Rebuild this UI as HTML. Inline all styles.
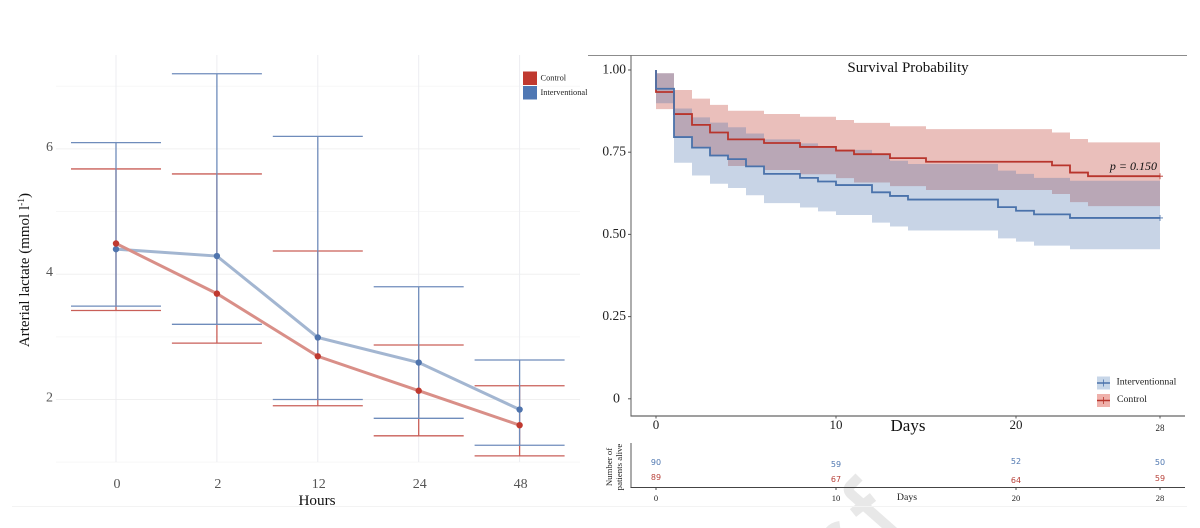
<!DOCTYPE html>
<html lang="en">
<head>
<meta charset="utf-8">
<title>Arterial lactate and survival probability</title>
<style>
html,body{margin:0;padding:0;background:#fff;}
body{width:1200px;height:528px;overflow:hidden;}
svg{display:block;font-family:"Liberation Serif",serif;}
</style>
</head>
<body>
<svg id="chart" width="1200" height="528" viewBox="0 0 1200 528" xmlns="http://www.w3.org/2000/svg">
  <g fill="none" stroke="#e8e8e8" stroke-width="10">
    <path d="M859 477 L850 486 Q847 490 851 494 L894 532"/>
    <path d="M873 497 L853 513"/>
    <path d="M829 532 Q833 527 840 526"/>
  </g>
  <line x1="12" y1="506.5" x2="1187" y2="506.5" stroke="#f3f3f3" stroke-width="1"/>
  <g id="lactate"></g>
  <g id="survival"></g>
  <g id="table"></g>
</svg>
<script>
// ---- Lactate chart data ----
const hourLabels = ['0', '2', '12', '24', '48'];
const lactateTicks = [2, 4, 6];
const lactateGrid = [1, 2, 3, 4, 5, 6, 7];
const interventionalMean = [4.4, 4.29, 2.99, 2.59, 1.84];
const interventionalUpper = [6.1, 7.2, 6.2, 3.8, 2.63];
const interventionalLower = [3.49, 3.2, 2.0, 1.7, 1.27];
const controlMean = [4.49, 3.69, 2.69, 2.14, 1.59];
const controlUpper = [5.68, 5.6, 4.37, 2.87, 2.22];
const controlLower = [3.42, 2.9, 1.9, 1.42, 1.1];

// ---- Survival chart data ----
const survivalTicks = ['0', '0.25', '0.50', '0.75', '1.00'];
const survivalTickValues = [0, 0.25, 0.5, 0.75, 1];
const dayTicks = [0, 10, 20, 28];
const controlDays = [0, 1, 2, 3, 4, 6, 8, 10, 11, 13, 15, 22, 23, 24, 28];
const controlSurvival = [0.933, 0.866, 0.833, 0.81, 0.789, 0.778, 0.766, 0.755, 0.744, 0.732, 0.721, 0.71, 0.688, 0.677, 0.677];
const controlCiUpper = [0.99, 0.939, 0.913, 0.894, 0.876, 0.866, 0.858, 0.848, 0.839, 0.829, 0.82, 0.81, 0.79, 0.78, 0.78];
const controlCiLower = [0.881, 0.797, 0.762, 0.737, 0.708, 0.696, 0.683, 0.671, 0.658, 0.647, 0.635, 0.623, 0.598, 0.586, 0.586];
const interventionDays = [0, 1, 2, 3, 4, 5, 6, 8, 9, 10, 12, 13, 14, 19, 20, 21, 23, 28];
const interventionSurvival = [0.943, 0.796, 0.764, 0.74, 0.729, 0.707, 0.684, 0.672, 0.661, 0.65, 0.628, 0.617, 0.606, 0.583, 0.572, 0.561, 0.55, 0.55];
const interventionCiUpper = [0.99, 0.883, 0.856, 0.84, 0.826, 0.807, 0.789, 0.777, 0.766, 0.757, 0.744, 0.724, 0.714, 0.694, 0.684, 0.672, 0.663, 0.663];
const interventionCiLower = [0.899, 0.718, 0.679, 0.654, 0.641, 0.619, 0.595, 0.582, 0.57, 0.559, 0.536, 0.524, 0.512, 0.488, 0.478, 0.466, 0.455, 0.455];

// ---- Number at risk data ----
const riskDays = [0, 10, 20, 28];
const riskInterventional = [90, 59, 52, 50];
const riskControl = [89, 67, 64, 59];

const NS = 'http://www.w3.org/2000/svg';
const BLUE = '#4f74ad', RED = '#c0392f';
const BLUE_BAR = '#6f8cbb', RED_BAR = '#c95f58';
const BLUE_LINE = '#a3b6d1', RED_LINE = '#d98f88';
function mk(parent, tag, attrs, text) {
  const el = document.createElementNS(NS, tag);
  for (const k in attrs) el.setAttribute(k, attrs[k]);
  if (text !== undefined) el.textContent = text;
  parent.appendChild(el);
  return el;
}

// ---- Lactate axes ----
const lx = i => 116 + i * 100.9;
const ly = v => 399.5 - (v - 2) * 62.65;
const L = document.getElementById('lactate');

lactateGrid.forEach(v => {
  const g = mk(L, 'line', {x1: 56, x2: 580, y1: ly(v), y2: ly(v), stroke: v % 2 ? '#f7f7f7' : '#f0f0f0', 'stroke-width': 1});
  
  
});
hourLabels.forEach((h, i) => {
  const g = mk(L, 'line', {x1: lx(i), x2: lx(i), y1: 55, y2: 462, stroke: '#ecedf1', 'stroke-width': 1});
  
  
  const t = mk(L, 'text', {x: lx(i) + 1, y: 488, 'text-anchor': 'middle', 'font-size': 14, fill: '#555'}, h);
  
  
});
lactateTicks.forEach(v => {
  const t = mk(L, 'text', {x: 49.5, y: ly(v) + 2, 'text-anchor': 'middle', 'font-size': 14, fill: '#555'}, String(v));
  
  
});

function errorBars(lower, upper, color, name) {
  lower.forEach((lo, i) => {
    const g = mk(L, 'g', {stroke: color, 'stroke-width': 1.3, fill: 'none'});
    
    
    mk(g, 'line', {x1: lx(i), x2: lx(i), y1: ly(upper[i]), y2: ly(lo)});
    mk(g, 'line', {x1: lx(i) - 45, x2: lx(i) + 45, y1: ly(upper[i]), y2: ly(upper[i])});
    mk(g, 'line', {x1: lx(i) - 45, x2: lx(i) + 45, y1: ly(lo), y2: ly(lo)});
  });
}
errorBars(controlLower, controlUpper, RED_BAR, 'control-error-bar');
errorBars(interventionalLower, interventionalUpper, BLUE_BAR, 'interventional-error-bar');

function meanLine(vals, lineColor, dotColor, name) {
  const p = mk(L, 'polyline', {points: vals.map((v, i) => lx(i) + ',' + ly(v)).join(' '), fill: 'none', stroke: lineColor, 'stroke-width': 3});
  
  
  vals.forEach((v, i) => {
    const c = mk(L, 'circle', {cx: lx(i), cy: ly(v), r: 3.2, fill: dotColor});
    
    
  });
}
meanLine(interventionalMean, BLUE_LINE, BLUE, 'interventional');
meanLine(controlMean, RED_LINE, RED, 'control');

const yTitle = mk(L, 'text', {transform: 'translate(29 270) rotate(-90)', 'text-anchor': 'middle', 'font-size': 15, fill: '#111'});


yTitle.appendChild(document.createTextNode('Arterial lactate (mmol l'));
mk(yTitle, 'tspan', {dy: -5, 'font-size': 9.5}, '-1');
mk(yTitle, 'tspan', {dy: 5}, ')');
const xTitle = mk(L, 'text', {x: 317, y: 505, 'text-anchor': 'middle', 'font-size': 15.2, fill: '#111'}, 'Hours');



const legend = [['Control', RED, 71.5, 'control'], ['Interventional', '#4f78b4', 86, 'interventional']];
legend.forEach(e => {
  const g = mk(L, 'g', {});
  
  
  mk(g, 'rect', {x: 523, y: e[2], width: 14, height: 13.5, fill: e[1]});
  mk(g, 'text', {x: 540.5, y: e[2] + 9, 'font-size': 8.4, fill: '#222'}, e[0]);
});

// ---- Survival axes ----
const sx = d => 656 + d * 18;
const sy = s => 398.8 - s * 328.8;
const S = document.getElementById('survival');

function axisLine(parent, x1, y1, x2, y2, color, w, name) {
  const l = mk(parent, 'line', {x1, y1, x2, y2, stroke: color, 'stroke-width': w});
  
  
}

function band(days, up, lo, fill, opacity, name) {
  let top = '', bot = '';
  days.forEach((d, i) => {
    if (i === days.length - 1) return;
    top += (top ? 'L' : 'M') + sx(d) + ' ' + sy(up[i]) + 'L' + sx(days[i + 1]) + ' ' + sy(up[i]);
    bot = 'L' + sx(days[i + 1]) + ' ' + sy(lo[i]) + 'L' + sx(d) + ' ' + sy(lo[i]) + bot;
  });
  const p = mk(S, 'path', {d: top + bot + 'Z', fill, 'fill-opacity': opacity});
  
  
}
function stepLine(days, vals, color, name) {
  let d = 'M' + sx(0) + ' ' + sy(1);
  days.forEach((day, i) => {
    d += 'L' + sx(day) + ' ' + sy(vals[i]);
    if (i < days.length - 1) d += 'L' + sx(days[i + 1]) + ' ' + sy(vals[i]);
  });
  const p = mk(S, 'path', {d, fill: 'none', stroke: color, 'stroke-width': 1.8});
  
  
  const last = vals[vals.length - 1];
  const c = mk(S, 'path', {d: 'M' + (sx(28) - 3) + ' ' + sy(last) + 'h6M' + sx(28) + ' ' + (sy(last) - 3) + 'v6', stroke: color, 'stroke-width': 0.8, fill: 'none'});
  
  
}
band(controlDays, controlCiUpper, controlCiLower, '#be3c32', 0.33, 'control-confidence-band');
band(interventionDays, interventionCiUpper, interventionCiLower, '#4a72ab', 0.3, 'interventional-confidence-band');
stepLine(controlDays, controlSurvival, '#b8352c', 'control-survival-curve');
stepLine(interventionDays, interventionSurvival, '#4a72ab', 'interventional-survival-curve');

axisLine(S, 588, 55.5, 1187, 55.5, '#8c8c8c', 1, 'survival-panel-top-border');
axisLine(S, 631, 55, 631, 416, '#777', 1.2, 'survival-y-axis');
axisLine(S, 630.5, 416, 1185, 416, '#666', 1.2, 'survival-x-axis');

survivalTickValues.forEach((v, i) => {
  axisLine(S, 628, sy(v), 631, sy(v), '#555', 1, 'survival-y-tick');
  const t = mk(S, 'text', {x: v === 0 ? 620 : 626, y: sy(v) + 3.5, 'text-anchor': 'end', 'font-size': v === 0 ? 14 : 13.5, fill: '#222'}, survivalTicks[i]);
  
  
});
dayTicks.forEach(d => {
  axisLine(S, sx(d), 416, sx(d), 418.5, '#555', 1, 'survival-x-tick');
  const small = d === 28;
  const t = mk(S, 'text', {x: sx(d), y: small ? 431 : 429, 'text-anchor': 'middle', 'font-size': small ? 9 : 13, fill: '#222'}, String(d));
  
  
});
const stitle = mk(S, 'text', {x: 908, y: 72, 'text-anchor': 'middle', 'font-size': 15, fill: '#111'}, 'Survival Probability');


const sxTitle = mk(S, 'text', {x: 908, y: 431, 'text-anchor': 'middle', 'font-size': 17, fill: '#111'}, 'Days');


const pv = mk(S, 'text', {x: 1157, y: 170, 'text-anchor': 'end', 'font-size': 12, 'font-style': 'italic', fill: '#111'}, 'p = 0.150');



const survivalLegend = [['Interventionnal', '#c7d6e8', '#4a72ab', 376.5, 'interventional'], ['Control', '#efb1ab', '#b8352c', 394, 'control']];
survivalLegend.forEach(e => {
  const g = mk(S, 'g', {});
  
  
  mk(g, 'rect', {x: 1097, y: e[3], width: 13, height: 13, fill: e[1]});
  mk(g, 'line', {x1: 1097, x2: 1110, y1: e[3] + 6.5, y2: e[3] + 6.5, stroke: e[2], 'stroke-width': 1.5});
  mk(g, 'line', {x1: 1103.5, x2: 1103.5, y1: e[3] + 3, y2: e[3] + 10, stroke: e[2], 'stroke-width': 0.8});
  mk(g, 'text', {x: e[4] === 'control' ? 1117 : 1116.5, y: e[3] + 8, 'font-size': 9.8, fill: '#222'}, e[0]);
});

// ---- Number at risk table ----
const T = document.getElementById('table');
axisLine(T, 631, 443, 631, 488, '#666', 1.1, 'table-y-axis');
axisLine(T, 630.5, 487.5, 1185, 487.5, '#444', 1.1, 'table-x-axis');
const blueRows = [462, 464, 461, 462];
const redRows = [477, 479, 480, 478];
riskDays.forEach((d, i) => {
  axisLine(T, sx(d), 487.5, sx(d), 490, '#444', 1, 'table-x-tick');
  const a = mk(T, 'text', {x: sx(d), y: blueRows[i] + 3, 'text-anchor': 'middle', 'font-size': 8, fill: '#4f77b0', style: 'font-family:"DejaVu Sans",sans-serif'}, String(riskInterventional[i]));
  
  
  const b = mk(T, 'text', {x: sx(d), y: redRows[i] + 3, 'text-anchor': 'middle', 'font-size': 8, fill: '#b8433b', style: 'font-family:"DejaVu Sans",sans-serif'}, String(riskControl[i]));
  
  
  const c = mk(T, 'text', {x: sx(d), y: 501, 'text-anchor': 'middle', 'font-size': 8.5, fill: '#222'}, String(d));
  
  
});
const tx = mk(T, 'text', {x: 907, y: 500, 'text-anchor': 'middle', 'font-size': 9.8, fill: '#222'}, 'Days');


const ty1 = mk(T, 'text', {transform: 'translate(612 467) rotate(-90)', 'text-anchor': 'middle', 'font-size': 8.8, fill: '#222'}, 'Number of');


const ty2 = mk(T, 'text', {transform: 'translate(622 467) rotate(-90)', 'text-anchor': 'middle', 'font-size': 8.8, fill: '#222'}, 'patients alive');


</script>
</body>
</html>
